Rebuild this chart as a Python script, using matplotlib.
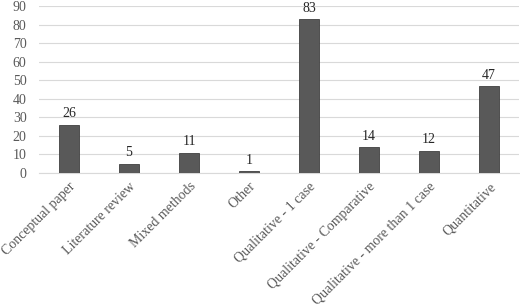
import matplotlib
matplotlib.use("Agg")
import matplotlib.pyplot as plt

categories = ["Conceptual paper", "Literature review", "Mixed methods", "Other",
              "Qualitative - 1 case", "Qualitative - Comparative",
              "Qualitative - more than 1 case", "Quantitative"]
values = [26, 5, 11, 1, 83, 14, 12, 47]
yticks = list(range(0, 91, 10))

plt.rcParams['font.family'] = ['Liberation Serif', 'DejaVu Serif']

fig = plt.figure(figsize=(5.2, 3.05), dpi=100)
ax = fig.add_axes([39/520, 1 - 173/305, 480/520, 167/305])

x = range(len(categories))
ax.bar(x, values, width=0.32, color="#595959", edgecolor="#404040", linewidth=0.6, zorder=3)
for xi, v in zip(x, values):
    ax.text(xi, v + 2.3, str(v), ha="center", va="bottom", fontsize=10, color="#262626")

ax.set_xlim(-0.5, len(categories) - 0.5)
ax.set_ylim(0, 90)
ax.set_yticks(yticks)
ax.set_yticklabels([str(t) for t in yticks], fontsize=10, color="#595959")
ax.yaxis.grid(True, color="#d9d9d9", linewidth=0.8, zorder=0)
ax.set_xticks(list(x))
ax.set_xticklabels(categories, rotation=45, ha="right", rotation_mode="anchor",
                   fontsize=10, color="#595959")
ax.tick_params(axis="both", length=0)
ax.tick_params(axis="y", pad=9)
ax.tick_params(axis="x", pad=5)
for s in ["top", "right", "left"]:
    ax.spines[s].set_visible(False)
ax.spines["bottom"].set_color("#d9d9d9")
ax.spines["bottom"].set_linewidth(0.8)

fig.savefig("out.png", dpi=100)
